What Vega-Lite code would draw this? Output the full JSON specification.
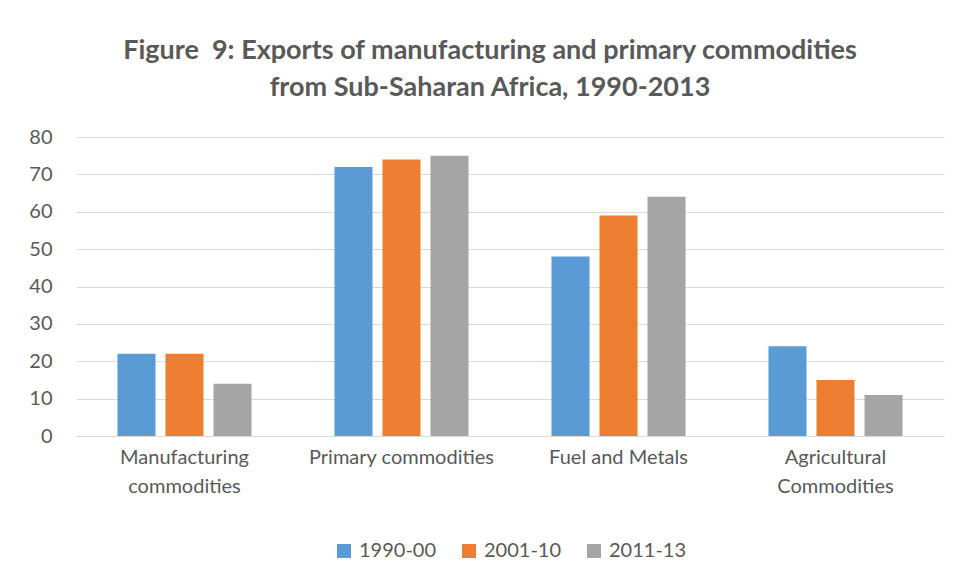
{
  "$schema": "https://vega.github.io/schema/vega-lite/v6.json",
  "autosize": {"type": "none"},
  "width": 868,
  "height": 299,
  "padding": {"left": 76, "top": 137, "right": 17, "bottom": 143},
  "background": "white",
  "title": {
    "text": ["Figure \u00a09: Exports of manufacturing and primary commodities", "from Sub-Saharan Africa, 1990-2013"],
    "anchor": "middle",
    "dx": -20,
    "offset": 25,
    "font": "Lato",
    "fontSize": 27,
    "fontWeight": "bold",
    "color": "#595959",
    "lineHeight": 37
  },
  "data": {
    "values": [
      {"category": "Manufacturing commodities", "period": "1990-00", "value": 22},
      {"category": "Manufacturing commodities", "period": "2001-10", "value": 22},
      {"category": "Manufacturing commodities", "period": "2011-13", "value": 14},
      {"category": "Primary commodities", "period": "1990-00", "value": 72},
      {"category": "Primary commodities", "period": "2001-10", "value": 74},
      {"category": "Primary commodities", "period": "2011-13", "value": 75},
      {"category": "Fuel and Metals", "period": "1990-00", "value": 48},
      {"category": "Fuel and Metals", "period": "2001-10", "value": 59},
      {"category": "Fuel and Metals", "period": "2011-13", "value": 64},
      {"category": "Agricultural Commodities", "period": "1990-00", "value": 24},
      {"category": "Agricultural Commodities", "period": "2001-10", "value": 15},
      {"category": "Agricultural Commodities", "period": "2011-13", "value": 11}
    ]
  },
  "mark": {"type": "bar"},
  "encoding": {
    "x": {
      "field": "category",
      "type": "nominal",
      "sort": null,
      "scale": {"paddingInner": 0, "paddingOuter": 0},
      "axis": {
        "title": null,
        "labelAngle": 0,
        "ticks": false,
        "domain": true,
        "domainColor": "#d9d9d9",
        "domainWidth": 1,
        "labelPadding": 11,
        "labelLimit": 0,
        "labelFont": "Lato",
        "labelFontSize": 20,
        "labelColor": "#595959",
        "labelLineHeight": 29,
        "labelBaseline": "top",
        "labelExpr": "datum.value == 'Manufacturing commodities' ? ['Manufacturing', 'commodities'] : datum.value == 'Agricultural Commodities' ? ['Agricultural', 'Commodities'] : datum.value"
      }
    },
    "xOffset": {
      "field": "period",
      "type": "nominal",
      "scale": {"paddingInner": 0.208, "paddingOuter": 0.864}
    },
    "y": {
      "field": "value",
      "type": "quantitative",
      "scale": {"domain": [0, 80]},
      "axis": {
        "title": null,
        "values": [0, 10, 20, 30, 40, 50, 60, 70, 80],
        "labelOverlap": false,
        "domain": false,
        "ticks": false,
        "labelPadding": 24,
        "labelFont": "Lato",
        "labelFontSize": 20,
        "labelColor": "#595959",
        "gridColor": "#d9d9d9",
        "gridWidth": 1
      }
    },
    "color": {
      "field": "period",
      "type": "nominal",
      "scale": {"domain": ["1990-00", "2001-10", "2011-13"], "range": ["#5b9bd5", "#ed7d31", "#a5a5a5"]},
      "legend": {
        "title": null,
        "orient": "bottom",
        "direction": "horizontal",
        "offset": 45,
        "symbolType": "square",
        "symbolSize": 196,
        "symbolStrokeWidth": 0,
        "labelFont": "Lato",
        "labelFontSize": 20,
        "labelColor": "#595959",
        "columnPadding": 22,
        "labelOffset": 5
      }
    }
  },
  "config": {
    "view": {"stroke": null},
    "legend": {"layout": {"bottom": {"anchor": "middle"}}}
  }
}
